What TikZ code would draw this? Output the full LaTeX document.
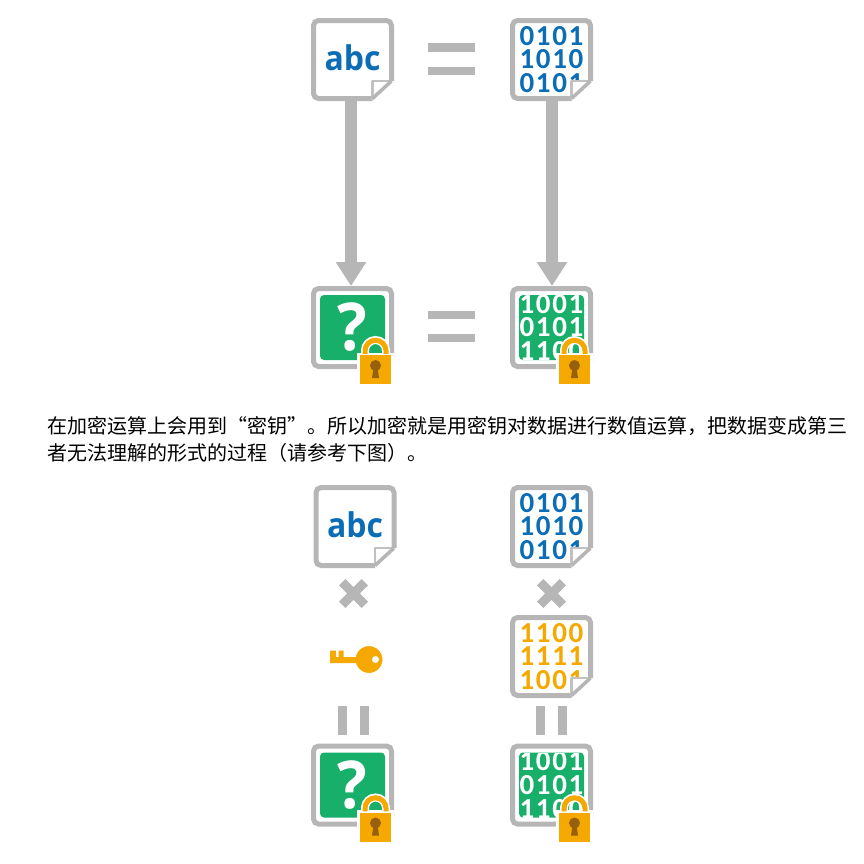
\documentclass[tikz,border=0pt]{standalone}
\usepackage{fontspec}
\setmainfont{Noto Sans CJK SC}
\newfontfamily\glyphfont[FakeStretch=0.94]{Open Sans}
\newfontfamily\bitfont[LetterSpace=5.5]{Carlito}
\usetikzlibrary{arrows.meta, positioning, calc, shapes.misc}
\definecolor{framegray}{HTML}{B6B6B6}
\definecolor{inkblue}{HTML}{0B6DB5}
\definecolor{keygold}{HTML}{F5A800}
\definecolor{lockgreen}{HTML}{18AF6B}
\definecolor{holebrown}{HTML}{96600C}

% sheet outline with the folded corner, drawn round a named sheet node
\newcommand{\docsheet}[1]{
    \fill[white] ($(#1.south east)+(-21.5,0)$) -- ($(#1.south east)+(0,-21)$) -- (#1.south east) -- cycle;
    \draw[sheetline] ($(#1.south east)+(-2.5,-20)$) -- ($(#1.north east)+(-2.5,2.5)$) -- ($(#1.north west)+(2.5,2.5)$) -- ($(#1.south west)+(2.5,-2.5)$) -- ($(#1.south east)+(-21.5,-2.5)$);
    \fill[white] ($(#1.south east)+(-21.5,-2.5)$) -- ($(#1.south east)+(-21.5,-20)$) -- ($(#1.south east)+(-2.5,-20)$) -- cycle;
    \draw[foldline] ($(#1.south east)+(-21.5,-2.5)$) -- ($(#1.south east)+(-21.5,-20)$) -- ($(#1.south east)+(-2.5,-20)$);
    \draw[folddiag] ($(#1.south east)+(-2.5,-20)$) -- ($(#1.south east)+(-21.5,-2.5)$);
}
% padlock with its body node at the given point
\newcommand{\padlock}[3]{
    \draw[line width=8pt, white] ($(#2,#3)+(-10.5,-13)$) -- ++(0,-6) arc (180:360:10.5) -- ++(0,6);
    \node[lockbody] (#1) at (#2,#3) {};
    \draw[shackle] ([xshift=-10.5pt]#1.north) -- ++(0,-3) arc (180:360:10.5) -- ++(0,3);
    \node[lockhole] (#1hole) at ($(#1.center)+(0,-4)$) {};
    \fill[holebrown] ($(#1hole.center)+(-2,2)$) -- ($(#1hole.center)+(2,2)$) -- ($(#1hole.center)+(3.5,12.5)$) -- ($(#1hole.center)+(-3.5,12.5)$) -- cycle;
}

\begin{document}
\begin{tikzpicture}[
    x=1pt, y=-1pt,
    % Styles
    sheet/.style={rectangle, minimum size=83pt, inner sep=0pt, outer sep=0pt},
    sheetline/.style={draw=framegray, line width=5pt, rounded corners=5pt},
    foldline/.style={draw=framegray!85, line width=2.5pt, line join=round},
    folddiag/.style={draw=framegray, line width=3.5pt},
    frame/.style={rectangle, draw=framegray, line width=5pt, rounded corners=5pt, minimum size=78pt, inner sep=0pt},
    greenbox/.style={rectangle, fill=lockgreen, rounded corners=4pt, minimum size=65pt, inner sep=0pt, outer sep=0pt},
    word/.style={text=inkblue, font=\fontsize{34}{34}\glyphfont\bfseries},
    bits/.style={align=center, font=\fontsize{29}{23.7}\bitfont\bfseries},
    quest/.style={text=white, font=\fontsize{66}{66}\glyphfont\bfseries},
    bigarrow/.style={-{Triangle[width=29pt, length=24pt]}, draw=framegray, fill=framegray, line width=11.5pt},
    lockbody/.style={rectangle, fill=keygold, draw=white, line width=2.5pt, minimum width=34pt, minimum height=31.5pt, inner sep=0pt, outer sep=0pt},
    shackle/.style={draw=keygold, line width=5pt},
    lockhole/.style={circle, fill=holebrown, minimum size=11pt, inner sep=0pt},
    eqbar/.style={rectangle, fill=framegray, minimum width=47pt, minimum height=8.5pt, inner sep=0pt},
    pipebar/.style={rectangle, fill=framegray, minimum width=9pt, minimum height=29pt, inner sep=0pt},
    crossmark/.style={cross out, draw=framegray, line width=9pt, minimum size=22.6pt, inner sep=0pt, outer sep=0pt},
]
\useasboundingbox (0,0) rectangle (864,863);

% ===== TOP ROW =====
\node[sheet, word] (plainA) at (352.5,59.5) {\raisebox{3pt}{abc}};
\docsheet{plainA}
\node[sheet, bits, text=inkblue] (bitsA) at (551.5,59.5) {0101\\1010\\0101};
\docsheet{bitsA}
\node[eqbar] (eqAtop) at (451.5,47.5) {};
\node[eqbar] (eqAbot) at (451.5,71) {};

% ===== ENCRYPTED ROW =====
\node[frame] (cipherA) at (352.5,327.5) {};
\node[greenbox, quest] (questA) at (352.5,327.5) {\raisebox{1pt}{?}};
\padlock{lockA}{375.5}{369.5}
\node[frame] (cipherB) at (551.5,327.5) {};
\node[greenbox, path picture={\node[bits, text=white] at (path picture bounding box.center) {1001\\0101\\1100};}] (codeB) at (551.5,327.5) {};
\padlock{lockB}{574.5}{369.5}
\node[eqbar] (eqBtop) at (451.5,315) {};
\node[eqbar] (eqBbot) at (451.5,338) {};

% ===== ARROWS =====
\draw[bigarrow] ([xshift=-1.5pt]plainA.south) -- ([xshift=-1.5pt]cipherA.north);
\draw[bigarrow] ([xshift=0.5pt]bitsA.south) -- ([xshift=0.5pt]cipherB.north);

% ===== TEXT =====
\node[anchor=west, align=left, inner sep=0pt, font=\fontsize{20}{27}\selectfont] (para) at (47,439.5) {在加密运算上会用到“密钥”。所以加密就是用密钥对数据进行数值运算，把数据变成第三\\者无法理解的形式的过程（请参考下图）。};

% ===== LOWER BLOCK =====
\node[sheet, word] (plainB) at (355,526.5) {\raisebox{3pt}{abc}};
\docsheet{plainB}
\node[sheet, bits, text=inkblue] (bitsB) at (551.5,526.5) {0101\\1010\\0101};
\docsheet{bitsB}
\node[crossmark] (timesA) at (353.5,593.5) {};
\node[crossmark] (timesB) at (551.5,593.5) {};

% key
\node[circle, fill=keygold, draw=white, line width=2pt, minimum size=29pt, inner sep=0pt, outer sep=0pt] (keyhead) at (369,659.5) {};
\fill[keygold] (330,650.5) -- (336,650.5) -- (336,657) -- (338.5,657) -- (338.5,650.5) -- (343.5,650.5) -- (343.5,657) -- (357,657) -- (357,663) -- (330,663) -- cycle;
\node[circle, fill=white, minimum size=7pt, inner sep=0pt] (keydot) at (375.5,659.5) {};

\node[sheet, bits, text=keygold] (bitsC) at (551.5,656.5) {1100\\1111\\1001};
\docsheet{bitsC}

\node[pipebar] (pipeAl) at (342.5,720.5) {};
\node[pipebar] (pipeAr) at (364.5,720.5) {};
\node[pipebar] (pipeBl) at (540,720.5) {};
\node[pipebar] (pipeBr) at (562.5,720.5) {};

\node[frame] (cipherC) at (352.5,785) {};
\node[greenbox, quest] (questC) at (352.5,785) {\raisebox{1pt}{?}};
\padlock{lockC}{375.5}{827}
\node[frame] (cipherD) at (551.5,785) {};
\node[greenbox, path picture={\node[bits, text=white] at (path picture bounding box.center) {1001\\0101\\1100};}] (codeD) at (551.5,785) {};
\padlock{lockD}{574.5}{827}

\end{tikzpicture}
\end{document}
